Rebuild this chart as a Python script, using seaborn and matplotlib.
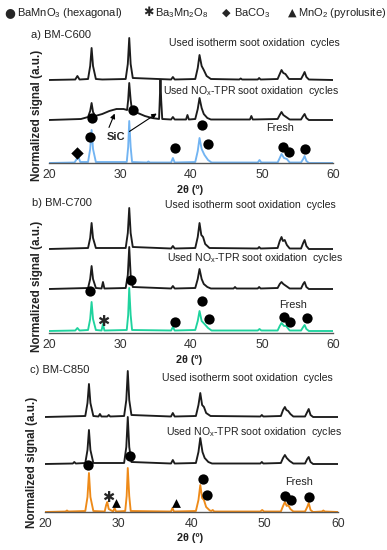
import numpy as np
import matplotlib
matplotlib.use("Agg")
import matplotlib.pyplot as plt
import seaborn as sns

sns.set_style("white")
plt.rcParams["font.family"] = ["Liberation Sans", "DejaVu Sans"]
plt.rcParams["mathtext.fontset"] = "custom"
plt.rcParams["mathtext.rm"] = "Liberation Sans"
plt.rcParams["mathtext.bf"] = "Liberation Sans:bold"
plt.rcParams["mathtext.default"] = "regular"

# ---- data: XRD patterns, (2theta, signal) vertices ----
# panel a) BM-C600
iso_a = [(20, 0), (23.7, 0.5), (24.0, 4), (24.3, 0.5), (25.5, 1), (25.8, 14), (26.0, 32), (26.2, 14),
         (26.6, 1), (27.5, 0.5), (30.8, 1), (31.1, 16), (31.3, 42), (31.5, 16), (31.8, 2), (37.2, 0.5),
         (37.45, 3), (37.7, 0.5), (40.6, 1), (40.95, 12), (41.2, 25), (41.5, 14), (41.8, 10), (42.2, 4),
         (42.8, 1), (46.8, 0.5), (47.0, 1.5), (47.2, 0.5), (49.4, 0.5), (49.6, 2), (49.8, 0.5), (52.2, 1),
         (52.5, 6), (52.75, 10), (53.0, 7), (53.3, 6), (53.8, 1), (55.5, 1), (55.8, 5), (56.0, 8),
         (56.25, 3), (56.6, 0.5), (60, 0)]
nox_a = [(20, 0), (24.5, 1), (25.5, 3), (25.8, 9), (26.0, 17), (26.2, 8), (26.5, 4), (27.5, 6),
         (28.5, 9), (29.5, 11), (30.5, 11), (31.0, 10), (31.15, 20), (31.3, 37), (31.5, 20), (31.7, 9),
         (32.5, 7), (33.5, 4), (34.5, 2), (35.5, 1), (35.6, 20), (35.7, 40), (35.8, 20), (35.95, 1),
         (37.2, 0.5), (37.45, 3), (37.7, 0.5), (39.3, 0.5), (39.5, 5), (39.7, 0.5), (40.6, 1), (40.95, 11),
         (41.2, 22), (41.5, 12), (41.8, 6), (42.3, 2), (42.8, 0.5), (48.3, 0.5), (48.5, 4), (48.7, 0.5),
         (52.2, 1), (52.5, 5), (52.75, 8), (53.0, 5), (53.4, 3), (53.9, 0.5), (55.5, 0.5), (55.8, 4),
         (56.0, 6), (56.25, 2), (56.6, 0), (60, 0)]
fresh_a = [(20, 0), (23.6, 0.5), (23.9, 4), (24.1, 7), (24.4, 1), (25.5, 1), (25.8, 14), (26.0, 33),
           (26.2, 14), (26.6, 1), (30.95, 1), (31.15, 16), (31.3, 42), (31.5, 16), (31.7, 1), (33.8, 0.5),
           (34.0, 1.5), (34.2, 0.5), (37.2, 0.5), (37.45, 5), (37.7, 0.5), (40.6, 1), (40.95, 12),
           (41.2, 25), (41.5, 14), (41.9, 8), (42.4, 3), (42.9, 0.5), (49.4, 0.5), (49.65, 3), (49.9, 0.5),
           (52.2, 0.5), (52.5, 5), (52.75, 9), (53.1, 5), (53.5, 4), (53.9, 0.5), (55.5, 0.5),
           (55.8, 4), (56.0, 7), (56.25, 2), (56.6, 0), (60, 0)]

# panel b) BM-C700
iso_b = [(20, 0), (25.5, 1), (25.8, 11), (26.0, 26), (26.2, 11), (26.6, 1), (30.8, 1), (31.1, 16),
         (31.3, 41), (31.5, 16), (31.8, 2), (37.2, 0.5), (37.45, 3), (37.7, 0.5), (40.6, 1), (40.95, 12),
         (41.2, 26), (41.45, 14), (41.7, 12), (42.0, 5), (42.6, 1), (49.4, 0.5), (49.6, 2), (49.8, 0.5),
         (52.2, 1), (52.5, 8), (52.75, 12), (52.95, 8), (53.2, 9), (53.5, 4), (53.9, 0.5), (55.5, 0.5),
         (55.8, 6), (56.0, 9), (56.25, 3), (56.6, 0), (60, 0)]
nox_b = [(20, 0), (25.5, 1), (25.8, 10), (26.0, 23), (26.2, 10), (26.6, 1), (27.4, 0.5), (27.6, 7),
         (27.8, 0.5), (30.8, 1), (31.1, 14), (31.3, 42), (31.5, 14), (31.8, 2), (37.2, 0.5), (37.45, 3),
         (37.7, 0.5), (40.6, 1), (40.95, 10), (41.2, 20), (41.5, 10), (41.8, 5), (42.3, 2), (42.8, 0.5),
         (46.0, 0.5), (46.2, 2), (46.4, 0.5), (49.4, 0.5), (49.6, 2), (49.8, 0.5), (52.2, 1), (52.5, 5),
         (52.75, 7), (53.0, 5), (53.4, 3), (53.9, 0.5), (55.5, 0.5), (55.8, 5), (56.0, 7), (56.25, 2),
         (56.6, 0), (60, 0)]
fresh_b = [(20, 0), (23.7, 0.5), (24.0, 3), (24.3, 0.5), (25.5, 1), (25.8, 12), (26.0, 29), (26.2, 12),
           (26.6, 1), (27.4, 0.5), (27.6, 7), (27.8, 0.5), (30.95, 1), (31.15, 16), (31.3, 43), (31.5, 16),
           (31.7, 1), (37.2, 0.5), (37.45, 4), (37.7, 0.5), (40.6, 1), (40.95, 10), (41.2, 20), (41.5, 10),
           (41.9, 7), (42.4, 3), (42.9, 0.5), (49.4, 0.5), (49.65, 2), (49.9, 0.5), (52.2, 0.5),
           (52.5, 5), (52.75, 8), (53.1, 5), (53.4, 5), (53.9, 0.5), (55.5, 0.5), (55.8, 4), (56.0, 6),
           (56.25, 2), (56.6, 0), (60, 0)]

# panel c) BM-C850
iso_c = [(20, 0), (25.5, 1), (25.8, 14), (26.0, 33), (26.2, 14), (26.6, 1), (27.3, 0.5), (27.5, 3),
         (27.7, 0.5), (28.5, 0.5), (28.7, 2), (28.9, 0.5), (30.8, 1), (31.1, 17), (31.3, 46), (31.5, 17),
         (31.8, 2), (37.2, 0.5), (37.45, 4), (37.7, 0.5), (40.6, 1), (40.95, 12), (41.2, 24), (41.45, 12),
         (41.7, 10), (42.0, 4), (42.6, 1), (49.4, 0.5), (49.6, 2), (49.8, 0.5), (52.2, 1), (52.5, 7),
         (52.75, 10), (52.95, 7), (53.2, 6), (53.5, 3), (53.9, 0.5), (55.5, 0.5), (55.8, 5), (56.0, 8),
         (56.25, 2), (56.6, 0), (60, 0)]
nox_c = [(20, 0), (23.8, 0.5), (24.0, 2), (24.2, 0.5), (25.5, 1), (25.8, 14), (26.0, 34), (26.2, 14),
         (26.6, 1), (30.8, 1), (31.1, 17), (31.3, 47), (31.5, 17), (31.8, 2), (37.2, 0.5), (37.45, 4),
         (37.7, 0.5), (40.6, 1), (40.95, 12), (41.2, 26), (41.5, 12), (41.8, 6), (42.3, 2), (42.8, 0.5),
         (49.4, 0.5), (49.6, 2), (49.8, 0.5), (52.2, 1), (52.5, 6), (52.75, 9), (53.0, 6), (53.4, 3),
         (53.9, 0.5), (55.5, 0.5), (55.8, 5), (56.0, 7), (56.25, 2), (56.6, 0), (60, 0)]
fresh_c = [(20, 0), (22.8, 0.5), (23.0, 1.5), (23.2, 0.5), (25.5, 1), (25.8, 15), (26.0, 39), (26.2, 15),
           (26.6, 1), (28.15, 0.5), (28.35, 7), (28.5, 10), (28.7, 3), (29.3, 0.5), (29.5, 4), (29.7, 0.5),
           (30.95, 1), (31.15, 16), (31.3, 44), (31.5, 16), (31.7, 1), (37.2, 0.5), (37.4, 4), (37.6, 0.5),
           (40.6, 1), (40.95, 12), (41.2, 27), (41.45, 14), (41.7, 12), (42.0, 5), (42.5, 1.5), (42.7, 1),
           (42.9, 2), (43.1, 0.5), (49.4, 0.5), (49.65, 2), (49.9, 0.5), (52.2, 0.5), (52.5, 6),
           (52.75, 10), (53.0, 6), (53.2, 7), (53.5, 3), (53.9, 0.5), (55.5, 0.5), (55.8, 5), (56.0, 9),
           (56.25, 2), (56.6, 0), (57.8, 0.5), (58.0, 1.5), (58.2, 0.5), (60, 0)]

# phase markers (2theta, height)
bamno3_a = [(25.8, 26), (26.0, 45), (31.8, 53), (37.7, 15), (41.5, 38), (42.4, 19), (52.9, 16), (53.8, 11), (56.0, 14)]
baco3_a = [(24.0, 10)]
bamno3_b = [(25.8, 42), (31.6, 53), (37.7, 11), (41.6, 32), (42.6, 14), (53.1, 16), (54.0, 11), (56.4, 15)]
ba3mn2o8_b = [(27.6, 11)]
bamno3_c = [(25.9, 47), (31.6, 56), (41.6, 33), (42.1, 17), (52.8, 16), (53.6, 12), (56.0, 15)]
ba3mn2o8_c = [(28.6, 15)]
mno2_c = [(29.7, 9), (37.9, 9)]

panels = [
    dict(title="a) BM-C600", traces=[(iso_a, 83), (nox_a, 43), (fresh_a, 0)], color="#72b4f2",
         rect=[49, 28, 284, 135], ylab=(37, 115), xlab=(190, 190), ttl=(31, 35),
         lab_iso=(36.9, 120), lab_nox=(36.1, 72), lab_fresh=(52.5, 35),
         marks=[(bamno3_a, "o"), (baco3_a, "D")]),
    dict(title="b) BM-C700", traces=[(iso_b, 84), (nox_b, 44), (fresh_b, 2)], color="#1fd39e",
         rect=[49, 198, 284, 135], ylab=(37, 286), xlab=(189, 360), ttl=(32, 203),
         lab_iso=(36.3, 128), lab_nox=(36.6, 75), lab_fresh=(54.4, 28),
         marks=[(bamno3_b, "o"), (ba3mn2o8_b, "*")]),
    dict(title="c) BM-C850", traces=[(iso_c, 95), (nox_c, 48), (fresh_c, 0)], color="#ee8a18",
         rect=[45, 368, 293, 144], ylab=(32, 462), xlab=(190, 538), ttl=(30, 370),
         lab_iso=(36.0, 134), lab_nox=(36.5, 80), lab_fresh=(54.7, 30),
         marks=[(bamno3_c, "o"), (ba3mn2o8_c, "*"), (mno2_c, "^")]),
]

W, H = 387, 550
fig = plt.figure(figsize=(W / 100, H / 100), dpi=100)

for p in panels:
    l, t, w, h = p["rect"]
    ax = fig.add_axes([l / W, (H - t - h) / H, w / W, h / H])
    for k, (tr, off) in enumerate(p["traces"]):
        xs = np.array([v[0] for v in tr])
        ys = np.array([v[1] for v in tr]) + off
        col = p["color"] if k == 2 else "#1c1c1c"
        sns.lineplot(x=xs, y=ys, ax=ax, color=col, lw=1.35, estimator=None, sort=False)
    for pts, m in p["marks"]:
        mx = [v[0] for v in pts]
        my = [v[1] for v in pts]
        if m == "*":
            for xx, yy in zip(mx, my):
                ax.text(xx, yy, "✱", family=["DejaVu Sans"], fontsize=10.5, fontweight="bold",
                        ha="center", va="center", zorder=6)
        else:
            sns.scatterplot(x=mx, y=my, ax=ax, marker=m, s=55 if m == "o" else 40,
                            color="black", edgecolor="black", linewidth=0, zorder=5)
    ax.set_xlim(20, 60)
    ax.set_ylim(0, h)
    ax.set_xticks([20, 30, 40, 50, 60])
    ax.set_yticks([])
    for s in ["top", "right", "left"]:
        ax.spines[s].set_visible(False)
    ax.spines["bottom"].set_color("#555555")
    ax.spines["bottom"].set_linewidth(1.0)
    ax.tick_params(axis="x", direction="out", length=3, width=0.8, color="#555555",
                   labelsize=8.8, labelcolor="#333333", pad=1.5)
    ax.set_xlabel("")
    ax.set_ylabel("")

    ax.text(p["lab_iso"][0], p["lab_iso"][1], "Used isotherm soot oxidation  cycles",
            fontsize=7.6, va="center", ha="left", color="#222222", clip_on=False)
    ax.text(p["lab_nox"][0], p["lab_nox"][1], "Used NO$_x$-TPR soot oxidation  cycles",
            fontsize=7.6, va="center", ha="left", color="#222222", clip_on=False)
    ax.text(p["lab_fresh"][0], p["lab_fresh"][1], "Fresh",
            fontsize=7.8, va="center", ha="center", color="#222222")

    fig.text(p["ttl"][0] / W, 1 - p["ttl"][1] / H, p["title"], fontsize=8, va="center", ha="left",
             color="#222222")
    fig.text(p["ylab"][0] / W, 1 - p["ylab"][1] / H, "Normalized signal (a.u.)", rotation=90,
             fontsize=8.4, fontweight="bold", va="center", ha="center", color="#222222")
    fig.text(p["xlab"][0] / W, 1 - p["xlab"][1] / H, "2θ (º)", fontsize=7.8, fontweight="bold",
             va="center", ha="center", color="#222222")

    if p["title"].startswith("a"):
        ax.text(29.4, 26, "SiC", fontsize=8, fontweight="bold", ha="center", va="center")
        ax.annotate("", xy=(29.4, 52), xytext=(28.3, 33),
                    arrowprops=dict(arrowstyle="-|>", color="black", lw=0.8, mutation_scale=7))
        ax.annotate("", xy=(35.5, 51), xytext=(31.0, 30),
                    arrowprops=dict(arrowstyle="-|>", color="black", lw=0.8, mutation_scale=7))

# top legend
leg_y = 1 - 13 / H
fam = ["DejaVu Sans"]
fig.text(10 / W, leg_y, "●", fontsize=9, ha="center", va="center", family=fam)
fig.text(17 / W, leg_y, "BaMnO$_3$ (hexagonal)", fontsize=8, ha="left", va="center", color="#222222")
fig.text(148 / W, leg_y, "✱", fontsize=9, fontweight="bold", ha="center", va="center", family=fam)
fig.text(155 / W, leg_y, "Ba$_3$Mn$_2$O$_8$", fontsize=8, ha="left", va="center", color="#222222")
fig.text(226 / W, leg_y, "◆", fontsize=8, ha="center", va="center", family=fam)
fig.text(234 / W, leg_y, "BaCO$_3$", fontsize=8, ha="left", va="center", color="#222222")
fig.text(292 / W, leg_y, "▲", fontsize=8, ha="center", va="center", family=fam)
fig.text(298 / W, leg_y, "MnO$_2$ (pyrolusite)", fontsize=8, ha="left", va="center", color="#222222")

fig.savefig("out.png", dpi=100)
